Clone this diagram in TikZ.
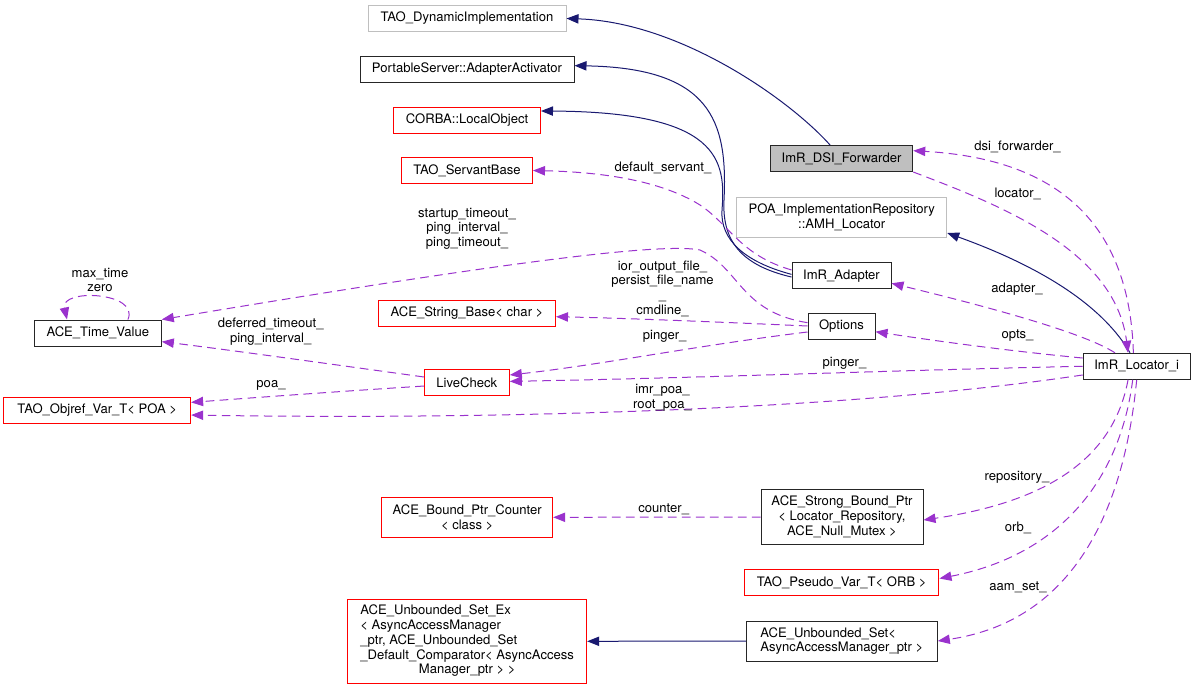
\documentclass[tikz,border=0pt]{standalone}
\usepackage{fontspec}
\setmainfont{TeX Gyre Heros}
\usetikzlibrary{arrows.meta}
\definecolor{navy}{HTML}{191970}
\definecolor{orchid}{HTML}{9A32CD}
\definecolor{boxgray}{HTML}{BFBFBF}

\begin{document}
\begin{tikzpicture}[x=0.75pt,y=-0.75pt,
    font=\fontsize{9.8}{11.1}\selectfont,
    cls/.style={draw=black!85,line width=0.75pt,inner sep=1pt,minimum height=19.5pt,align=center},
    redcls/.style={cls,draw=red},
    graycls/.style={cls,draw=boxgray},
    lbl/.style={inner sep=0pt,align=center},
    inh/.style={draw=navy,line width=0.75pt,-{Triangle[length=9pt,width=7pt]}},
    use/.style={draw=orchid,line width=0.75pt,dash pattern=on 6.5pt off 4pt,-{Triangle[length=9pt,width=7pt]}}]
    \useasboundingbox (0,0) rectangle (1196,689);

    % classes
    \node[graycls,minimum width=148.5pt] (dynimpl) at (467,18.5) {TAO\_DynamicImplementation};
    \node[cls,minimum width=160.5pt] (adact) at (467,69) {PortableServer::AdapterActivator};
    \node[redcls,minimum width=110.25pt] (localobj) at (467,120) {CORBA::LocalObject};
    \node[redcls,minimum width=98.25pt] (servbase) at (467,170.5) {TAO\_ServantBase};
    \node[cls,fill=boxgray,minimum width=106.9pt] (dsifwd) at (841.5,158.5) {ImR\_DSI\_Forwarder};
    \node[graycls,minimum width=157.5pt,minimum height=30pt] (amhloc) at (841.7,217) {POA\_ImplementationRepository\\::AMH\_Locator};
    \node[cls,minimum width=74.25pt] (adapter) at (841.5,275.7) {ImR\_Adapter};
    \node[cls,minimum width=50.25pt] (options) at (841.5,326) {Options};
    \node[cls,minimum width=80.25pt] (locator) at (1136.7,366.3) {ImR\_Locator\_i};
    \node[cls,minimum width=95.25pt] (timeval) at (97.8,333) {ACE\_Time\_Value};
    \node[redcls,minimum width=132.75pt] (strbase) at (467,313) {ACE\_String\_Base< char >};
    \node[redcls,minimum width=63.75pt] (livecheck) at (466.8,382.7) {LiveCheck};
    \node[redcls,minimum width=140pt] (objref) at (97.3,410.5) {TAO\_Objref\_Var\_T< POA >};
    \node[redcls,minimum width=128.25pt,minimum height=30pt] (boundctr) at (467.2,517.3) {ACE\_Bound\_Ptr\_Counter\\< class >};
    \node[cls,minimum width=121.5pt,minimum height=41.25pt] (strongptr) at (842,517) {ACE\_Strong\_Bound\_Ptr\\< Locator\_Repository,\\ACE\_Null\_Mutex >};
    \node[redcls,minimum width=145.9pt] (pseudovar) at (841.7,582.5) {TAO\_Pseudo\_Var\_T< ORB >};
    \node[cls,align=left,minimum width=143.25pt,minimum height=30pt] (uset) at (841.8,641) {ACE\_Unbounded\_Set<\\AsyncAccessManager\_ptr >};
    \node[redcls,minimum width=179.25pt,minimum height=63pt] (usetex) at (467.2,641.3) {\begin{tabular}{@{}l@{}}ACE\_Unbounded\_Set\_Ex\\< AsyncAccessManager\\\_ptr, ACE\_Unbounded\_Set\\\_Default\_Comparator< AsyncAccess\\\multicolumn{1}{@{}c@{}}{Manager\_ptr > >}\end{tabular}};

    % inheritance
    \draw[inh] ([xshift=-8.6pt]dsifwd.north) .. controls (790,100) and (680,22) .. (dynimpl.east);
    \draw[inh] ([yshift=-1pt]adapter.west) .. controls (740,265) and (722,240) .. (724,200) .. controls (728,120) and (710,68) .. ([yshift=2.5pt]adact.east);
    \draw[inh] ([yshift=1pt]adapter.west) .. controls (745,262) and (720,240) .. (722,210) .. controls (726,160) and (720,112) .. ([yshift=6.75pt]localobj.east);
    \draw[inh] ([xshift=-5pt]locator.north) .. controls (1105,310) and (1050,270) .. ([yshift=-12pt]amhloc.east);
    \draw[inh] (uset.west) -- (usetex.east);

    % members
    \draw[use] ([xshift=-2.5pt]locator.north) .. controls (1130,240) and (1075,160) .. ([yshift=5.85pt]dsifwd.east);
    \draw[use] (dsifwd.south east) .. controls (1000,205) and (1115,250) .. ([xshift=-6.5pt]locator.north);
    \draw[use] ([yshift=4.3pt]adapter.west) .. controls (740,255) and (730,225) .. (700,205) .. controls (660,180) and (600,172) .. (servbase.east);
    \draw[use] ([xshift=-16.3pt]locator.north) .. controls (1080,330) and (960,300) .. ([yshift=-5.7pt]adapter.east);
    \draw[use] ([yshift=6.2pt]locator.west) .. controls (1000,350) and (930,340) .. ([yshift=-4.3pt]options.east);
    \draw[use] (locator.west) .. controls (900,370) and (700,378) .. ([yshift=1pt]livecheck.east);
    \draw[use] ([yshift=-6.5pt]locator.west) .. controls (850,410) and (500,420) .. ([yshift=-3.4pt]objref.east);
    \draw[use] ([xshift=-6.5pt]locator.south) .. controls (1115,450) and (1060,500) .. ([yshift=-2.25pt]strongptr.east);
    \draw[use] ([xshift=-3pt]locator.south) .. controls (1120,480) and (1060,555) .. ([yshift=3pt]pseudovar.east);
    \draw[use] (locator.south) .. controls (1125,500) and (1080,620) .. (uset.east);
    \draw[use] ([yshift=2.5pt]options.west) .. controls (740,312) and (740,268) .. (700,250) .. controls (650,240) and (400,280) .. (timeval.north east);
    \draw[use] (options.west) .. controls (720,322) and (620,318) .. ([yshift=-2.8pt]strbase.east);
    \draw[use] ([yshift=-4.5pt]options.west) .. controls (700,345) and (600,365) .. ([yshift=5.8pt]livecheck.east);
    \draw[use] ([yshift=4.3pt]livecheck.west) .. controls (330,364) and (230,350) .. ([yshift=-6.5pt]timeval.east);
    \draw[use] ([yshift=-2.5pt]livecheck.west) .. controls (330,392) and (250,398) .. ([yshift=6.1pt]objref.east);
    \draw[use] ([xshift=22.6pt]timeval.north) .. controls (140,292) and (60,288) .. ([xshift=-23.1pt]timeval.north);
    \draw[use] (strongptr.west) -- (boundctr.east);

    % edge labels
    \node[lbl] (ldsi) at (1017.5,147) {dsi\_forwarder\_};
    \node[lbl] (lloc) at (1017.7,194) {locator\_};
    \node[lbl] (lservant) at (663,168) {default\_servant\_};
    \node[lbl] (ladapter) at (1017,289) {adapter\_};
    \node[lbl] (lopts) at (1017.5,336) {opts\_};
    \node[lbl] (lpinger) at (844.5,363) {pinger\_};
    \node[lbl] (lpoas) at (662.5,397.7) {imr\_poa\_\\root\_poa\_};
    \node[lbl] (lrepo) at (1017,477) {repository\_};
    \node[lbl] (lorb) at (1018,528) {orb\_};
    \node[lbl] (laam) at (1018,587) {aam\_set\_};
    \node[lbl] (lcounter) at (663.7,509) {counter\_};
    \node[lbl] (lfiles) at (662.5,288.7) {ior\_output\_file\_\\persist\_file\_name\\\_\\cmdline\_};
    \node[lbl] (loptping) at (664.7,336.7) {pinger\_};
    \node[lbl] (ltimeouts) at (467,228.7) {startup\_timeout\_\\ping\_interval\_\\ping\_timeout\_};
    \node[lbl] (ldeferred) at (270.7,332) {deferred\_timeout\_\\ping\_interval\_};
    \node[lbl] (lpoa) at (271,385.7) {poa\_};
    \node[lbl] (lmax) at (100,280) {max\_time\\zero};
\end{tikzpicture}
\end{document}
